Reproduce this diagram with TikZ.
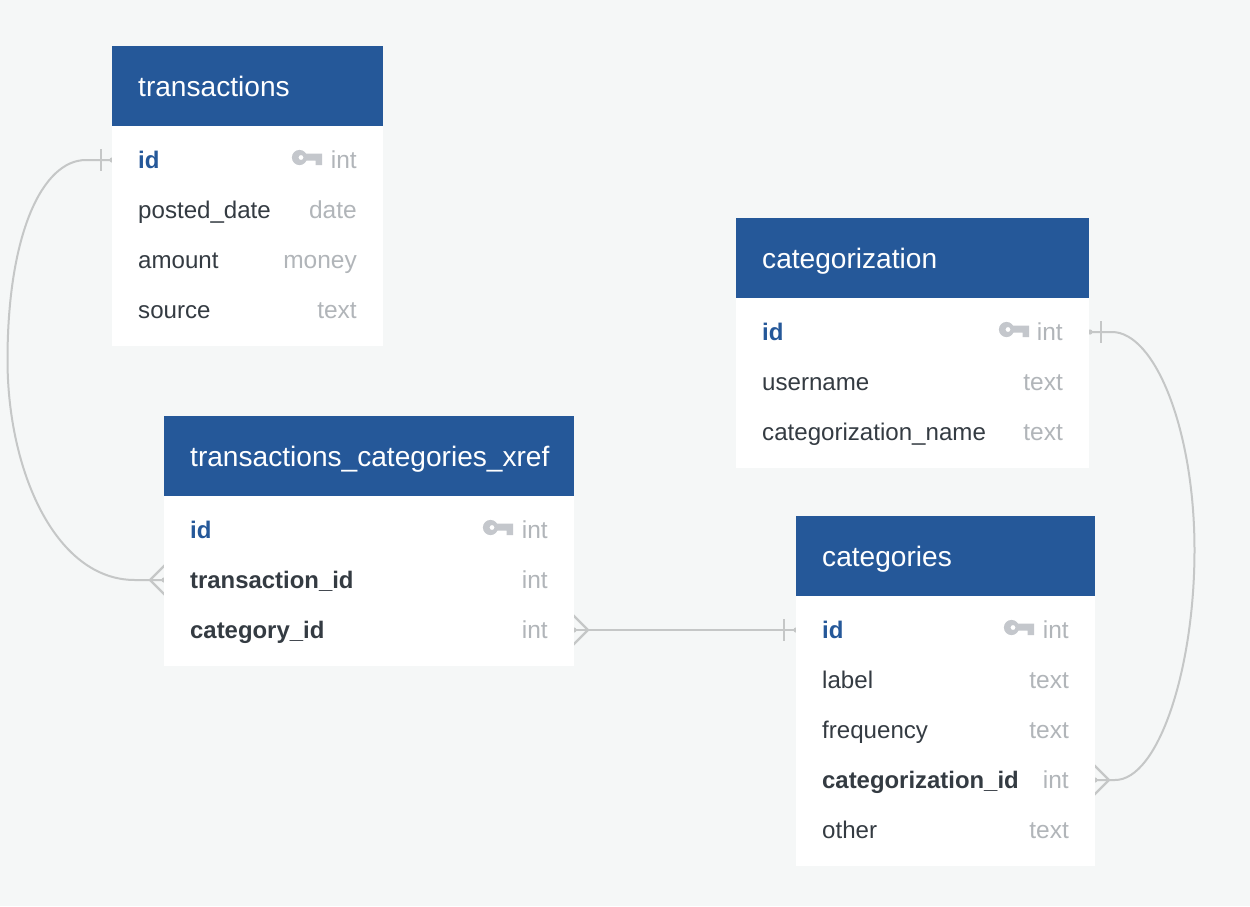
\documentclass[tikz,border=0pt]{standalone}
\usepackage{fontspec}
\setmainfont{Liberation Sans}
\definecolor{pagebg}{HTML}{F5F7F7}
\definecolor{headblue}{HTML}{255899}
\definecolor{rowtext}{HTML}{343B42}
\definecolor{typetext}{HTML}{B1B5B9}
\definecolor{keygrey}{HTML}{C4C7CC}
\definecolor{linkgrey}{HTML}{C5C7C7}
\tikzset{
  x=1pt,y=-1pt,
  tablebody/.style={fill=white,draw=none,anchor=north west,inner sep=0pt,outer sep=0pt,minimum width=#1},
  headbox/.style={fill=headblue,draw=none,anchor=north west,inner sep=0pt,outer sep=0pt,minimum width=#1,minimum height=80pt},
  headtext/.style={text=white,font=\fontsize{28.1}{32}\selectfont,anchor=base west,inner sep=0pt},
  rowname/.style={text=rowtext,font=\fontsize{24.1}{28}\selectfont,anchor=base west,inner sep=0pt},
  rowbold/.style={text=rowtext,font=\fontsize{23.9}{28}\selectfont\bfseries,anchor=base west,inner sep=0pt},
  rowid/.style={text=headblue,font=\fontsize{24}{28}\selectfont\bfseries,anchor=base west,inner sep=0pt},
  rowtype/.style={text=typetext,font=\fontsize{24.5}{28}\selectfont,anchor=base east,inner sep=0pt},
  link/.style={draw=linkgrey,line width=2pt,line join=round},
  foot/.style={draw=linkgrey,line width=2.4pt},
  keyicon/.pic={
    \fill[keygrey,even odd rule] (-7.5,-0.5) circle (7.6) (-6,-0.5) circle (2.5);
    \fill[keygrey] (-2,-4.5) -- (15,-4.5) -- (15,2.5) -- (15,7) -- (8.5,7) -- (8.5,2.5) -- (-2,2.5) -- cycle;
  }
}
\begin{document}
\begin{tikzpicture}
\useasboundingbox (0,0) rectangle (1250,906);
\fill[pagebg] (0,0) rectangle (1250,906);

% connectors (under the tables)
\coordinate (tid) at (112,160);
\coordinate (xtid) at (164,580);
\coordinate (xcid) at (574,630);
\coordinate (cid) at (796,630);
\coordinate (gid) at (1090,332);
\coordinate (cgid) at (1095,780);
\draw[link] (tid) -- (86,160) .. controls (42,160) and (7.5,235) .. (7.5,360)
  .. controls (7.5,470) and (55,580) .. (135,580) -- (xtid);
\draw[link] (xcid) -- (cid);
\draw[link] (gid) -- (1112,332) .. controls (1155,332) and (1194.5,430) .. (1194.5,550)
  .. controls (1194.5,670) and (1158,780) .. (1115,780) -- (cgid);

% crow's feet and bars
\draw[link] (101,149) -- (101,171);
\draw[foot] (150,580) -- (165,565) (150,580) -- (165,595);
\draw[foot] (588,630) -- (573,615) (588,630) -- (573,645);
\draw[link] (784,619) -- (784,641);
\draw[link] (1101,321) -- (1101,343);
\draw[foot] (1109,780) -- (1094,765) (1109,780) -- (1094,795);
\fill[linkgrey] (tid) circle (2.6) (xtid) circle (2.6) (xcid) circle (2.6)
  (cid) circle (2.6) (gid) circle (2.6) (cgid) circle (2.6);

% transactions
\node[tablebody=271pt,minimum height=300pt] (T) at (112,46) {};
\node[headbox=271pt] (Th) at (112,46) {};
\node[headtext] (T0) at (138,96) {transactions};
\node[rowid] (T1) at (138,168) {id};
\pic at (307,158) {keyicon};
\node[rowtype] (T1t) at (357,168) {int};
\node[rowname] (T2) at (138,218) {posted\_date};
\node[rowtype] (T2t) at (357,218) {date};
\node[rowname] (T3) at (138,268) {amount};
\node[rowtype] (T3t) at (357,268) {money};
\node[rowname] (T4) at (138,318) {source};
\node[rowtype] (T4t) at (357,318) {text};

% xref
\node[tablebody=410pt,minimum height=250pt] (X) at (164,416) {};
\node[headbox=410pt] (Xh) at (164,416) {};
\node[headtext] (X0) at (190,466) {transactions\_categories\_xref};
\node[rowid] (X1) at (190,538) {id};
\pic at (498,528) {keyicon};
\node[rowtype] (X1t) at (548,538) {int};
\node[rowbold] (X2) at (190,588) {transaction\_id};
\node[rowtype] (X2t) at (548,588) {int};
\node[rowbold] (X3) at (190,638) {category\_id};
\node[rowtype] (X3t) at (548,638) {int};

% categorization
\node[tablebody=353pt,minimum height=250pt] (G) at (736,218) {};
\node[headbox=353pt] (Gh) at (736,218) {};
\node[headtext] (G0) at (762,268) {categorization};
\node[rowid] (G1) at (762,340) {id};
\pic at (1014,330) {keyicon};
\node[rowtype] (G1t) at (1063,340) {int};
\node[rowname] (G2) at (762,390) {username};
\node[rowtype] (G2t) at (1063,390) {text};
\node[rowname] (G3) at (762,440) {categorization\_name};
\node[rowtype] (G3t) at (1063,440) {text};

% categories
\node[tablebody=299pt,minimum height=350pt] (C) at (796,516) {};
\node[headbox=299pt] (Ch) at (796,516) {};
\node[headtext] (C0) at (822,566) {categories};
\node[rowid] (C1) at (822,638) {id};
\pic at (1019,628) {keyicon};
\node[rowtype] (C1t) at (1069,638) {int};
\node[rowname] (C2) at (822,688) {label};
\node[rowtype] (C2t) at (1069,688) {text};
\node[rowname] (C3) at (822,738) {frequency};
\node[rowtype] (C3t) at (1069,738) {text};
\node[rowbold] (C4) at (822,788) {categorization\_id};
\node[rowtype] (C4t) at (1069,788) {int};
\node[rowname] (C5) at (822,838) {other};
\node[rowtype] (C5t) at (1069,838) {text};
\end{tikzpicture}
\end{document}
